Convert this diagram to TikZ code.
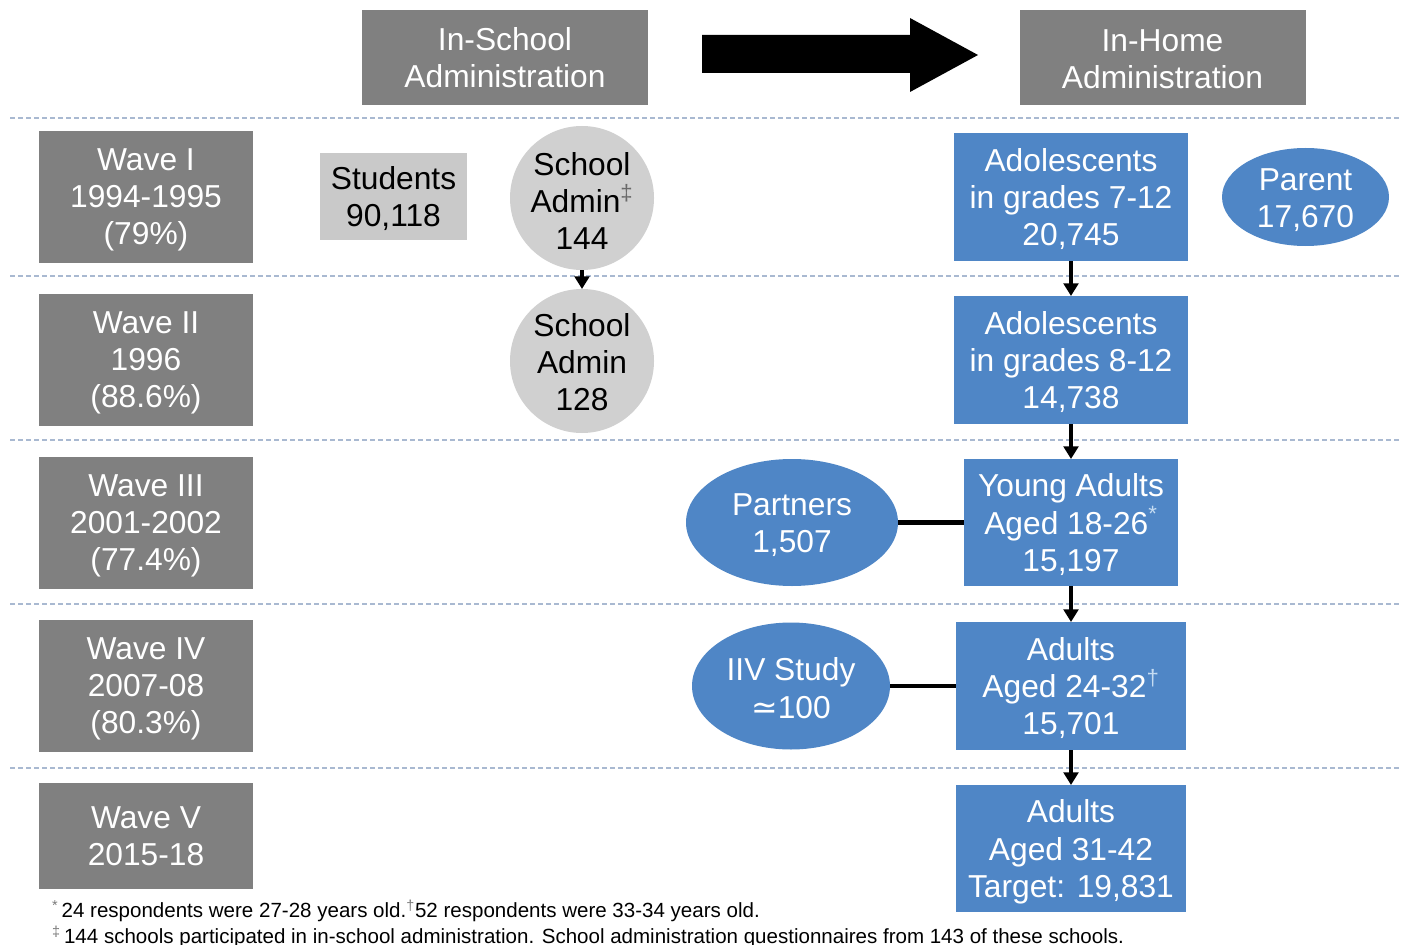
\documentclass[tikz,border=0pt]{standalone}
\usepackage{fontspec}
\setmainfont{Liberation Sans}
\newfontfamily\symfont{DejaVu Sans}
\usetikzlibrary{arrows.meta,shapes.geometric}
\definecolor{hdrgray}{HTML}{808080}
\definecolor{ltgray}{HTML}{C9C9C9}
\definecolor{circgray}{HTML}{D0D0D0}
\definecolor{boxblue}{HTML}{4F86C6}
\definecolor{dashblue}{HTML}{A9B9D1}
\definecolor{markblue}{HTML}{C5DCF2}
\definecolor{markgray}{HTML}{7A7A7A}
\definecolor{markdark}{HTML}{6A6A6A}
\newcommand\fmark[1]{\textcolor{markgray}{\textsuperscript{#1}}}
\newcommand\bmark[1]{\textcolor{markblue}{\textsuperscript{#1}}}
\begin{document}
\begin{tikzpicture}[x=0.75pt,y=-0.75pt,
  every node/.style={inner sep=0pt, outer sep=0pt, align=center,
    font=\fontsize{23.8}{27.8}\selectfont},
  txt/.style={text depth=0pt},
  hdrbox/.style={txt, fill=hdrgray, text=white, minimum width=214.5pt, minimum height=71.25pt},
  wavebox/.style={txt, fill=hdrgray, text=white, minimum width=160.5pt, minimum height=99pt},
  bluebox/.style={txt, fill=boxblue, text=white},
  blueell/.style={ellipse, fill=boxblue},
  graycirc/.style={circle, fill=circgray, minimum size=108pt},
  sep/.style={dashblue, line width=1.5pt, dash pattern=on 3.5pt off 2.5pt},
  flow/.style={line width=3.6pt, -{Triangle[width=11pt,length=9.5pt]}},
  link/.style={line width=3.6pt},
  foot/.style={anchor=base west, font=\fontsize{15.4}{18}\selectfont}
]
\fill[white] (0,0) rectangle (1403,945);
\useasboundingbox (0,0) rectangle (1403,945);

% headers
\node[hdrbox] (hschool) at (505,57.5) {In-School\\Administration};
\node[hdrbox] (hhome) at (1162.5,57.5) {};
\node[txt, text=white] (hhomet) at (1162.5,59.5) {In-Home\\Administration};
\fill[black] (702,35) -- (910,35) -- (910,18) -- (978,55) -- (910,92) -- (910,73) -- (702,73) -- cycle;

% separators
\foreach \yy in {118,276,440,604,768}
  \draw[sep] (10,\yy) -- (1400,\yy);

% waves
\node[wavebox] (w1) at (146,197) {Wave I\\1994-1995\\(79\%)};
\node[wavebox] (w2) at (146,360) {Wave II\\1996\\(88.6\%)};
\node[wavebox] (w3) at (146,523) {Wave III\\2001-2002\\(77.4\%)};
\node[wavebox] (w4) at (146,686) {Wave IV\\2007-08\\(80.3\%)};
\node[wavebox, minimum height=79.5pt] (w5) at (146,836) {Wave V\\2015-18};

% in-school
\node[txt, fill=ltgray, minimum width=110.25pt, minimum height=65.25pt] (stud) at (393.5,196.5) {Students\\90,118};
\node[graycirc] (sa1) at (582,198) {};
\node[txt] (sa1t) at (582,201) {School\\Admin\textcolor{markdark}{\textsuperscript{‡}}\\144};
\node[graycirc] (sa2) at (582,361) {};
\node[txt] (sa2t) at (582,362) {School\\Admin\\128};
\draw[flow] (sa1.south) -- (sa2.north);

% in-home
\node[bluebox, minimum width=175.5pt, minimum height=96pt] (b1) at (1071,197) {Adolescents\\in grades 7-12\\20,745};
\node[bluebox, minimum width=175.5pt, minimum height=96pt] (b2) at (1071,360) {Adolescents\\in grades 8-12\\14,738};
\node[bluebox, minimum width=160.5pt, minimum height=95.25pt] (b3) at (1071,522.5) {Young Adults\\Aged 18-26\bmark{*}\\15,197};
\node[bluebox, minimum width=172.5pt, minimum height=96pt] (b4) at (1071,686) {Adults\\Aged 24-32\bmark{†}\\15,701};
\node[bluebox, minimum width=172.5pt, minimum height=95.25pt] (b5) at (1071,848.5) {Adults\\Aged 31-42\\Target: 19,831};
\draw[flow] (b1.south) -- (b2.north);
\draw[flow] (b2.south) -- (b3.north);
\draw[flow] (b3.south) -- (b4.north);
\draw[flow] (b4.south) -- (b5.north);

\node[blueell, minimum width=125.25pt, minimum height=73.5pt] (par) at (1305.5,197) {};
\node[txt, text=white] (part) at (1305.5,198) {Parent\\17,670};
\node[blueell, minimum width=159pt, minimum height=95.25pt] (prt) at (792,522.5) {};
\node[txt, text=white] (prtt) at (792,523.5) {Partners\\1,507};
\node[blueell, minimum width=148.5pt, minimum height=95.25pt] (iiv) at (791,686) {};
\node[txt, text=white] (iivt) at (791,688) {IIV Study\\{\symfont ≃}100};
\draw[link] (prt.east) -- (b3.west);
\draw[link] (iiv.east) -- (b4.west);

% footnotes
\node[foot] (f1) at (52,917) {\fmark{*}\,24 respondents were 27-28 years old.\fmark{†}52 respondents were 33-34 years old.};
\node[foot] (f2) at (52,943) {\fmark{‡}\,144 schools participated in in-school administration. School administration questionnaires from 143 of these schools.};
\end{tikzpicture}
\end{document}
